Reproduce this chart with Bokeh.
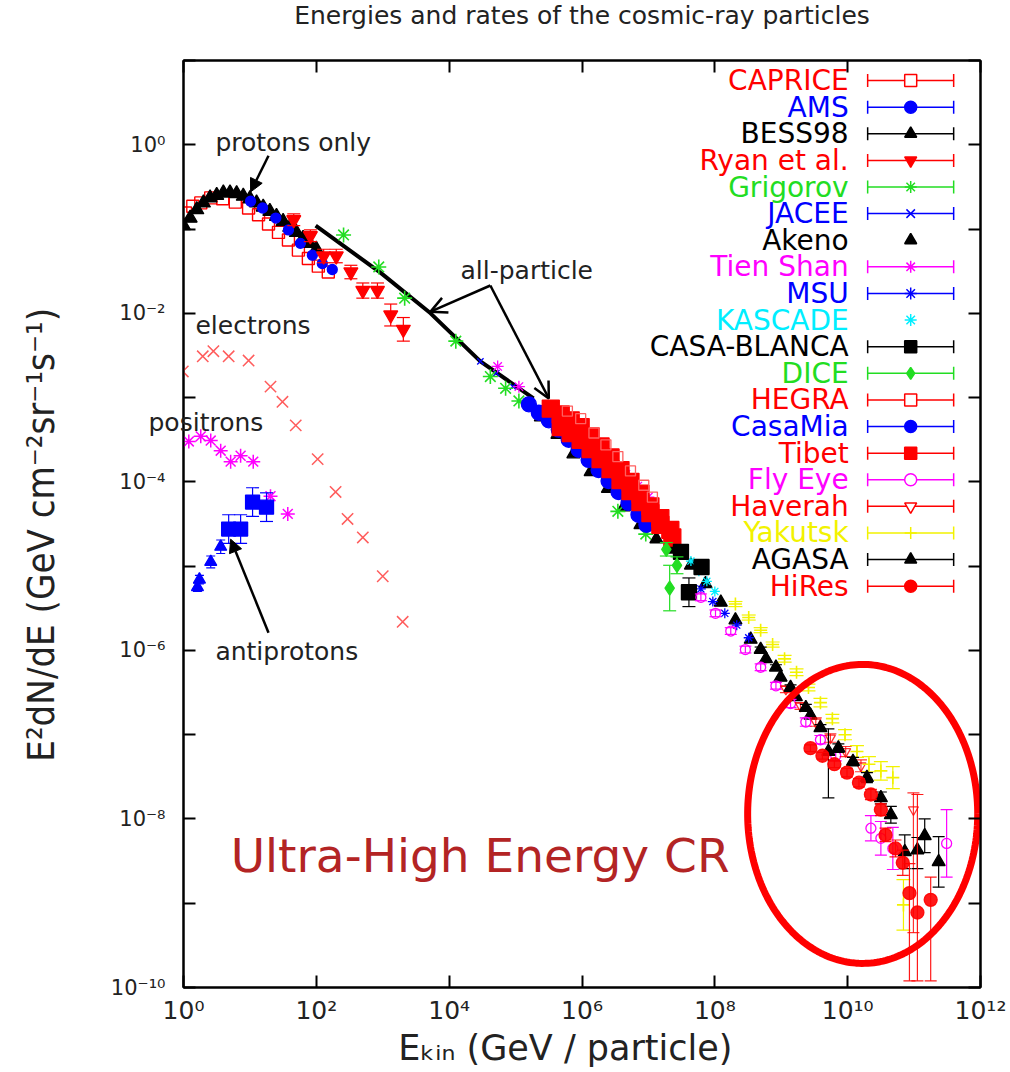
import numpy as np
from bokeh.plotting import figure
from bokeh.models import (Range1d, FixedTicker, CustomJSTickFormatter, LogAxis,
                          Label, Arrow, NormalHead, OpenHead, ColumnDataSource)
from bokeh.core.properties import value
from bokeh.embed import file_html
from bokeh.resources import INLINE

# ---------------- data : log10(E_kin / GeV)  and  log10(E^2 dN/dE) ----------------
caprice_lx = [0.03, 0.14, 0.26, 0.41, 0.59, 0.78, 0.98, 1.13, 1.28, 1.43, 1.58, 1.73, 1.88, 2.03, 2.18]
caprice_ly = [-0.81, -0.73, -0.69, -0.63, -0.64, -0.68, -0.75, -0.83, -0.94, -1.04, -1.13, -1.25, -1.35, -1.44, -1.51]

bess_lx = [0.0, 0.1, 0.2, 0.3, 0.4, 0.5, 0.6, 0.7, 0.8, 0.9, 1.0, 1.1, 1.2, 1.3, 1.4, 1.5, 1.6, 1.7, 1.8, 1.9, 2.0]
bess_ly = [-0.96, -0.87, -0.77, -0.69, -0.63, -0.60, -0.57, -0.57, -0.58, -0.61, -0.64, -0.69, -0.74, -0.79,
           -0.85, -0.91, -0.98, -1.04, -1.11, -1.17, -1.24]

ams_lx = [1.01, 1.19, 1.39, 1.58, 1.76, 1.94, 2.09, 2.24]
ams_ly = [-0.67, -0.75, -0.87, -1.01, -1.17, -1.31, -1.41, -1.48]

ryan_lx = [1.66, 1.91, 2.11, 2.30, 2.52, 2.70, 2.92, 3.12, 3.31]
ryan_ly = [-0.89, -1.08, -1.32, -1.32, -1.51, -1.73, -1.73, -2.02, -2.19]
ryan_err = [0.07, 0.07, 0.08, 0.08, 0.08, 0.09, 0.09, 0.13, 0.14]

grigorov_lx = [2.41, 2.94, 3.33, 4.10, 4.62, 4.85, 5.05, 6.54, 6.96]
grigorov_ly = [-1.07, -1.45, -1.82, -2.33, -2.75, -2.89, -3.04, -4.35, -4.62]

jacee_lx = [4.47, 4.71, 4.96, 5.20, 5.45]
jacee_ly = [-2.57, -2.71, -2.87, -3.04, -3.18]

akeno_lx = [5.38, 5.63, 5.87, 6.13, 6.39, 6.63, 6.88, 7.12, 7.36, 7.64, 7.86, 8.09, 8.31, 8.54, 8.77, 8.99, 9.22, 9.44]
akeno_ly = [-3.23, -3.44, -3.67, -3.88, -4.08, -4.30, -4.51, -4.68, -4.80, -4.99, -5.21, -5.43, -5.64, -5.87,
            -6.10, -6.32, -6.55, -6.77]

tienshan_lx = [4.73, 5.05, 6.46, 6.66, 6.84, 7.00]
tienshan_ly = [-2.63, -2.87, -3.77, -3.91, -4.05, -4.18]

msu_lx = [7.79, 7.97, 8.15, 8.33, 8.51]
msu_ly = [-5.27, -5.42, -5.56, -5.70, -5.85]

kascade_lx = [7.52, 7.64, 7.76, 7.88, 8.00]
kascade_ly = [-4.82, -4.94, -5.06, -5.18, -5.30]

casablanca_lx = [7.49, 7.80, 7.61]
casablanca_ly = [-4.83, -5.01, -5.31]
casablanca_err = [0.06, 0.08, 0.17]

dice_lx = [7.27, 7.43, 7.32]
dice_ly = [-4.80, -4.99, -5.26]
dice_err = [0.08, 0.10, 0.27]

hegra_lx = [5.78, 5.98, 6.18, 6.36, 6.54, 6.73, 6.93, 7.06]
hegra_ly = [-3.16, -3.25, -3.42, -3.56, -3.70, -3.87, -4.04, -4.18]

casamia_lx = [5.20, 5.35, 5.50, 5.65, 5.80, 5.95, 6.10, 6.25, 6.40, 6.55, 6.70, 6.85, 6.97]
casamia_ly = [-3.08, -3.18, -3.27, -3.38, -3.50, -3.62, -3.74, -3.86, -3.99, -4.12, -4.25, -4.39, -4.51]

tibet_lx = [5.53, 5.68, 5.83, 5.98, 6.13, 6.28, 6.43, 6.58, 6.73, 6.88, 7.03, 7.18, 7.33,
            5.68, 5.83, 5.98, 6.13, 6.28, 6.43, 6.58, 6.73, 6.88, 7.03, 7.18, 7.36]
tibet_ly = [-3.13, -3.20, -3.27, -3.35, -3.46, -3.58, -3.71, -3.86, -4.00, -4.14, -4.29, -4.43, -4.57,
            -3.35, -3.42, -3.50, -3.61, -3.73, -3.85, -3.98, -4.11, -4.24, -4.37, -4.51, -4.66]

flyeye_lx = [7.79, 8.01, 8.24, 8.46, 8.69, 8.92, 9.14, 9.37, 9.59, 9.82, 10.35, 10.50, 10.68, 11.49]
flyeye_ly = [-5.37, -5.56, -5.77, -5.99, -6.20, -6.42, -6.63, -6.85, -7.06, -7.25, -8.11, -8.23, -8.35, -8.29]
flyeye_err = [0.04, 0.04, 0.04, 0.04, 0.04, 0.04, 0.05, 0.05, 0.05, 0.06, 0.15, 0.20, 0.25, 0.40]

haverah_lx = [9.07, 9.29, 9.52, 9.74, 9.97, 10.20, 10.99]
haverah_ly = [-6.46, -6.66, -6.85, -7.04, -7.20, -7.37, -7.89]
haverah_lo = [0.04, 0.04, 0.05, 0.05, 0.06, 0.07, 1.46]
haverah_hi = [0.04, 0.04, 0.05, 0.05, 0.06, 0.07, 0.20]

yakutsk_lx = [8.31, 8.51, 8.69, 8.87, 9.05, 9.23, 9.41, 9.59, 9.77, 9.96, 10.14, 10.32, 10.50, 10.68, 10.84]
yakutsk_ly = [-5.45, -5.61, -5.76, -5.93, -6.10, -6.26, -6.44, -6.62, -6.81, -7.00, -7.20, -7.35, -7.43,
              -7.51, -9.02]
yakutsk_err = [0.03, 0.03, 0.03, 0.03, 0.04, 0.04, 0.04, 0.05, 0.05, 0.06, 0.07, 0.09, 0.11, 0.13, 0.30]

agasa_lx = [8.69, 8.92, 9.14, 9.37, 9.59, 9.71, 9.86, 10.08, 10.29, 10.50, 10.65, 10.86, 11.05, 11.16, 11.37]
agasa_ly = [-5.99, -6.20, -6.44, -6.68, -6.92, -7.20, -7.16, -7.32, -7.51, -7.75, -7.95, -8.39, -8.37,
            -8.20, -8.51]
agasa_lo = [0.03, 0.03, 0.03, 0.04, 0.04, 0.55, 0.05, 0.05, 0.06, 0.07, 0.10, 0.20, 0.22, 0.20, 0.30]
agasa_hi = [0.03, 0.03, 0.03, 0.04, 0.04, 0.27, 0.05, 0.05, 0.06, 0.07, 0.10, 0.20, 0.15, 0.20, 0.30]

hires_lx = [9.44, 9.62, 9.80, 9.99, 10.17, 10.35, 10.50, 10.57, 10.72, 10.83, 10.93, 11.05, 11.25]
hires_ly = [-7.16, -7.25, -7.35, -7.45, -7.57, -7.71, -7.89, -8.19, -8.35, -8.52, -8.88, -9.11, -8.96]
hires_lo = [0.04, 0.04, 0.04, 0.05, 0.05, 0.06, 0.07, 0.08, 0.10, 0.15, 1.20, 1.50, 1.50]
hires_hi = [0.04, 0.04, 0.04, 0.05, 0.05, 0.06, 0.07, 0.08, 0.10, 0.15, 0.35, 1.40, 0.27]

electron_lx = [-0.01, 0.29, 0.45, 0.68, 0.98, 1.31, 1.49, 1.69, 2.02, 2.29, 2.47, 2.70, 3.00, 3.30]
electron_ly = [-2.69, -2.51, -2.45, -2.51, -2.56, -2.87, -3.05, -3.33, -3.73, -4.12, -4.44, -4.66, -5.12, -5.66]

positron_lx = [0.08, 0.26, 0.41, 0.56, 0.71, 0.86, 1.05, 1.31, 1.57]
positron_ly = [-3.52, -3.46, -3.51, -3.63, -3.76, -3.69, -3.76, -4.17, -4.38]

pbar_tri_lx = [0.21, 0.24, 0.41, 0.56]
pbar_tri_ly = [-5.25, -5.16, -4.95, -4.77]
pbar_tri_err = [0.05, 0.05, 0.07, 0.08]
pbar_sq_lx = [0.68, 0.86, 1.04, 1.25]
pbar_sq_ly = [-4.56, -4.56, -4.24, -4.30]
pbar_sq_err = [0.17, 0.17, 0.17, 0.17]

all_particle_lx = [1.99, 2.97, 3.72, 4.47, 5.27]
all_particle_ly = [-0.96, -1.52, -2.00, -2.57, -3.01]

legend_names = ["CAPRICE", "AMS", "BESS98", "Ryan et al.", "Grigorov", "JACEE", "Akeno", "Tien Shan",
                "MSU", "KASCADE", "CASA-BLANCA", "DICE", "HEGRA", "CasaMia", "Tibet", "Fly Eye",
                "Haverah", "Yakutsk", "AGASA", "HiRes"]

x_tick_exps = [0, 2, 4, 6, 8, 10, 12]
y_tick_exps = [-10, -9, -8, -7, -6, -5, -4, -3, -2, -1, 0, 1]

TITLE = "Energies and rates of the cosmic-ray particles"

# ---------------- styles ----------------
RED, BLUE, BLACK = "#ff0000", "#0000ff", "#000000"
GREEN, MAGENTA, CYAN, YELLOW = "#22dd22", "#ff00ff", "#00eeff", "#f2f200"
FONT = "DejaVu Sans"

legend_style = [  # color, marker, filled, has error bar
    (RED, "square", False, True), (BLUE, "circle", True, True), (BLACK, "triangle", True, True),
    (RED, "inverted_triangle", True, True), (GREEN, "asterisk", False, True), (BLUE, "x", False, True),
    (BLACK, "triangle", True, False), (MAGENTA, "asterisk", False, True), (BLUE, "asterisk", False, True),
    (CYAN, "asterisk", False, False), (BLACK, "square", True, True), (GREEN, "diamond", True, True),
    (RED, "square", False, True), (BLUE, "circle", True, True), (RED, "square", True, True),
    (MAGENTA, "circle", False, True), (RED, "inverted_triangle", False, True), (YELLOW, "cross", False, True),
    (BLACK, "triangle", True, True), (RED, "circle", True, True),
]

p = figure(width=1010, height=1072, x_axis_type="log", y_axis_type="log",
           x_range=Range1d(1, 1e12), y_range=Range1d(1e-10, 1e1),
           output_backend="svg", toolbar_location=None,
           min_border_left=183, min_border_right=30, min_border_top=60, min_border_bottom=85)
p.background_fill_color = "white"
p.border_fill_color = "white"
p.outline_line_color = "black"
p.outline_line_width = 2
p.xgrid.visible = False
p.ygrid.visible = False

fmt_code = """
const e = Math.round(Math.log10(tick));
if (e % 2 !== 0) { return ""; }
const sup = {"0":"\u2070","1":"\u00b9","2":"\u00b2","3":"\u00b3","4":"\u2074","5":"\u2075",
             "6":"\u2076","7":"\u2077","8":"\u2078","9":"\u2079","-":"\u207b"};
let s = "";
for (const c of String(e)) { s += sup[c]; }
return "10" + s;
"""

def style_axis(ax):
    ax.major_tick_in = 12
    ax.major_tick_out = 0
    ax.major_tick_line_width = 2
    ax.major_tick_line_color = "black"
    ax.minor_tick_line_color = None
    ax.axis_line_width = 2
    ax.axis_line_color = "black"

xt = [10.0 ** k for k in x_tick_exps]
yt = [10.0 ** k for k in y_tick_exps]

p.xaxis.ticker = FixedTicker(ticks=xt, minor_ticks=[])
p.yaxis.ticker = FixedTicker(ticks=yt, minor_ticks=[])
p.xaxis.formatter = CustomJSTickFormatter(code=fmt_code)
p.yaxis.formatter = CustomJSTickFormatter(code=fmt_code)
for ax in (p.xaxis[0], p.yaxis[0]):
    style_axis(ax)
    ax.major_label_text_font = FONT
    ax.major_label_text_color = "#222222"
    ax.axis_label_text_font_style = "normal"
    ax.axis_label_text_color = "#222222"
p.xaxis.major_label_text_font_size = "25px"
p.yaxis.major_label_text_font_size = "21px"
p.xaxis.major_label_standoff = 8
p.yaxis.major_label_standoff = 18
p.xaxis.axis_label = "E\u2096\u1d62\u2099    (GeV / particle)"
p.xaxis.axis_label_text_font = FONT
p.xaxis.axis_label_text_font_size = "35px"
p.xaxis.axis_label_standoff = 0
p.yaxis.axis_label = "E\u00b2dN/dE   (GeV cm\u207b\u00b2sr\u207b\u00b9s\u207b\u00b9)"
p.yaxis.axis_label_text_font = "'Liberation Sans Narrow', 'DejaVu Sans Condensed', 'Liberation Sans'"
p.yaxis.axis_label_text_font_size = "38px"
p.yaxis.axis_label_standoff = 45

top_ax = LogAxis(ticker=FixedTicker(ticks=xt, minor_ticks=[]),
                 formatter=CustomJSTickFormatter(code="return '';"),
                 major_label_text_font_size="1px", major_label_standoff=0)
right_ax = LogAxis(ticker=FixedTicker(ticks=yt, minor_ticks=[]),
                   formatter=CustomJSTickFormatter(code="return '';"),
                   major_label_text_font_size="1px", major_label_standoff=0)
style_axis(top_ax)
style_axis(right_ax)
p.add_layout(top_ax, "above")
p.add_layout(right_ax, "right")

YMIN = 1.2e-10


def draw(lx, ly, color, marker, size, fill=True, lo=None, hi=None, lw=1.3, alpha=1.0, cap=10):
    x = np.power(10.0, np.array(lx, dtype=float))
    y = np.power(10.0, np.array(ly, dtype=float))
    if lo is not None:
        if hi is None:
            hi = lo
        ylo = np.maximum(y / np.power(10.0, np.array(lo)), YMIN)
        yhi = y * np.power(10.0, np.array(hi))
        p.segment(x0=x, y0=ylo, x1=x, y1=yhi, line_color=color, line_width=1.2, line_alpha=alpha)
        p.scatter(x=np.concatenate([x, x]), y=np.concatenate([ylo, yhi]), marker="dash", size=cap,
                  line_color=color, line_width=1.2, line_alpha=alpha)
    p.scatter(x=x, y=y, marker=marker, size=size, line_color=color,
              fill_color=color if fill else None, line_width=lw, alpha=alpha)


# low-energy particles
draw(electron_lx, electron_ly, "#ff4040", "x", 16, fill=False, lw=1.5, alpha=0.85)
draw(positron_lx, positron_ly, MAGENTA, "asterisk", 14, fill=False, lw=1.5)
draw(pbar_tri_lx, pbar_tri_ly, BLUE, "triangle", 12, lo=pbar_tri_err, cap=9)
draw(pbar_sq_lx, pbar_sq_ly, BLUE, "square", 14, lo=pbar_sq_err, cap=13)

# protons
draw(caprice_lx, caprice_ly, RED, "square", 12, fill=False, lw=1.4)
draw(bess_lx, bess_ly, BLACK, "triangle", 14)
draw(ams_lx, ams_ly, BLUE, "circle", 10)
draw(ryan_lx, ryan_ly, RED, "inverted_triangle", 14, lo=ryan_err, cap=13)

# all-particle line
p.line(np.power(10.0, np.array(all_particle_lx)), np.power(10.0, np.array(all_particle_ly)),
       line_color="black", line_width=4)

# all-particle data
draw(akeno_lx, akeno_ly, BLACK, "triangle", 13)
draw(msu_lx, msu_ly, BLUE, "asterisk", 10, fill=False)
draw(kascade_lx, kascade_ly, CYAN, "asterisk", 10, fill=False)
draw(jacee_lx, jacee_ly, BLUE, "x", 9, fill=False)
draw(grigorov_lx, grigorov_ly, GREEN, "asterisk", 15, fill=False, lw=1.6)
draw(tienshan_lx, tienshan_ly, MAGENTA, "asterisk", 12, fill=False)
draw(casamia_lx, casamia_ly, BLUE, "circle", 15)
draw(tibet_lx, tibet_ly, RED, "square", 17)
draw(hegra_lx, hegra_ly, "#ff6060", "square", 10, fill=False)
draw(casablanca_lx, casablanca_ly, BLACK, "square", 15, lo=casablanca_err, cap=13)
draw(dice_lx, dice_ly, GREEN, "diamond", 14, lo=dice_err, cap=13)
draw(flyeye_lx, flyeye_ly, MAGENTA, "circle", 10, fill=False, lo=flyeye_err, cap=12)
draw(haverah_lx, haverah_ly, RED, "inverted_triangle", 10, fill=False, lo=haverah_lo, hi=haverah_hi, alpha=0.8, cap=12)
draw(yakutsk_lx, yakutsk_ly, YELLOW, "cross", 13, fill=False, lo=yakutsk_err, lw=1.6, cap=14)
draw(agasa_lx, agasa_ly, BLACK, "triangle", 13, lo=agasa_lo, hi=agasa_hi, cap=12)
draw(hires_lx, hires_ly, RED, "circle", 13, lo=hires_lo, hi=hires_hi, alpha=0.9, cap=12)

# ---------------- legend (drawn inside the frame, top right) ----------------
leg_top, leg_step = 0.762, 0.3158          # rows in log10 units
leg_text_x, leg_sym_x = 10.0 ** 10.015, 10.0 ** 10.949
leg_bar0, leg_bar1 = 10.0 ** 10.301, 10.0 ** 11.596
leg_y = [10.0 ** (leg_top - leg_step * i) for i in range(len(legend_names))]
leg_src = ColumnDataSource(dict(x=[leg_text_x] * len(legend_names), y=leg_y, text=legend_names,
                                color=[s[0] for s in legend_style]))
p.text(x="x", y="y", text="text", text_color="color", source=leg_src, text_align="right",
       text_baseline="middle", text_font=value(FONT), text_font_size="28px")
for yy, (col, mk, filled, bar) in zip(leg_y, legend_style):
    if bar:
        p.segment(x0=[leg_bar0], y0=[yy], x1=[leg_bar1], y1=[yy], line_color=col, line_width=1.5)
        p.scatter(x=[leg_bar0, leg_bar1], y=[yy, yy], marker="dash", angle=np.pi / 2, size=13,
                  line_color=col, line_width=1.5)
    p.scatter(x=[leg_sym_x], y=[yy], marker=mk, size=12, line_color=col,
              fill_color=col if filled else "white", line_width=1.5)

# ---------------- annotations ----------------
def note(lx, ly, text, size="25px", color="#222222"):
    p.add_layout(Label(x=10.0 ** lx, y=10.0 ** ly, text=text, text_align="left", text_baseline="middle",
                       text_font=FONT, text_font_size=size, text_color=color))

note(0.48, 0.024, "protons only")
note(4.17, -1.49, "all-particle")
note(0.18, -2.14, "electrons")
note(0.48, -6.01, "antiprotons")
note(0.71, -8.43, "Ultra-High Energy CR", size="47px", color="#b32424")

# texts that sit partly outside the frame are drawn as text glyphs on the overlay level
p.text(x=[10.0 ** -0.527], y=[10.0 ** -3.30], text=["positrons"], text_align="left",
       text_baseline="middle", text_font=value(FONT), text_font_size="25px", text_color="#222222",
       level="overlay")
p.text(x=[10.0 ** 6.0], y=[10.0 ** 1.536], text=[TITLE], text_align="center",
       text_baseline="middle", text_font=value(FONT), text_font_size="25px", text_color="#222222",
       level="overlay")

def arrow(lx0, ly0, lx1, ly1, head):
    p.add_layout(Arrow(end=head, x_start=10.0 ** lx0, y_start=10.0 ** ly0, x_end=10.0 ** lx1,
                       y_end=10.0 ** ly1, line_width=2.5, line_color="black"))

arrow(1.28, -0.13, 1.01, -0.56, NormalHead(size=13, fill_color="black", line_color="black"))
arrow(4.62, -1.67, 3.72, -1.98, OpenHead(size=16, line_width=2.5, line_color="black"))
arrow(4.62, -1.67, 5.50, -3.01, OpenHead(size=16, line_width=2.5, line_color="black"))
arrow(1.28, -5.79, 0.71, -4.68, NormalHead(size=13, fill_color="black", line_color="black"))

# red ellipse around the ultra-high-energy region (centre and half-axes in log10 units)
t = np.linspace(0, 2 * np.pi, 240)
p.line(np.power(10.0, 10.226 + 1.732 * np.cos(t)), np.power(10.0, -7.94 + 1.774 * np.sin(t)),
       line_color="#ff0000", line_width=7)

open("out.html", "w").write(file_html(p, INLINE))
